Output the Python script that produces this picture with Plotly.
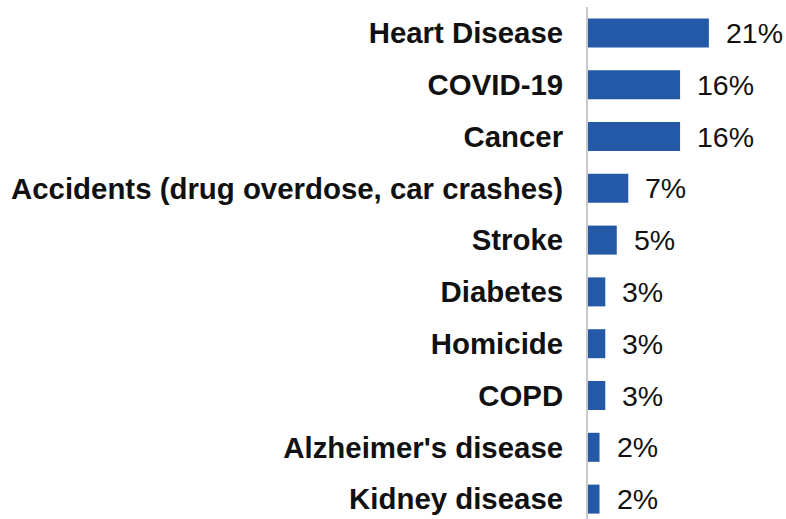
import plotly.graph_objects as go

# Leading causes of death, share of total (%)
causes = [
    "Heart Disease",
    "COVID-19",
    "Cancer",
    "Accidents (drug overdose, car crashes)",
    "Stroke",
    "Diabetes",
    "Homicide",
    "COPD",
    "Alzheimer's disease",
    "Kidney disease",
]
shares = [21, 16, 16, 7, 5, 3, 3, 3, 2, 2]
labels = [f"{v}%" for v in shares]

BAR_COLOR = "#2459A8"
FONT = "Liberation Sans, Arial, sans-serif"

fig = go.Figure(
    go.Bar(
        x=shares,
        y=causes,
        orientation="h",
        marker=dict(color=BAR_COLOR, line=dict(width=0)),
        hoverinfo="skip",
    )
)

# value labels to the right of each bar
for cause, v, lab in zip(causes, shares, labels):
    fig.add_annotation(
        x=v, y=cause, text=lab, showarrow=False,
        xanchor="left", yanchor="middle", xshift=15,
        font=dict(family=FONT, size=28.5, color="#111111"),
    )

fig.update_layout(
    width=786, height=519,
    margin=dict(l=588, r=0, t=7, b=0),
    paper_bgcolor="white", plot_bgcolor="white",
    bargap=0.44,
    showlegend=False,
    xaxis=dict(
        range=[0, 34.4], visible=False, showgrid=False, zeroline=False, fixedrange=True,
    ),
    yaxis=dict(
        categoryorder="array", categoryarray=causes[::-1],
        range=[-0.384, 9.5],
        showgrid=False, zeroline=False, ticks="",
        showline=True, linecolor="#C9C9C9", linewidth=2,
        ticklabelstandoff=17,
        tickfont=dict(family=FONT, size=29.4, color="#111111", weight="bold"),
        fixedrange=True,
    ),
)

fig.write_html("out.html")
